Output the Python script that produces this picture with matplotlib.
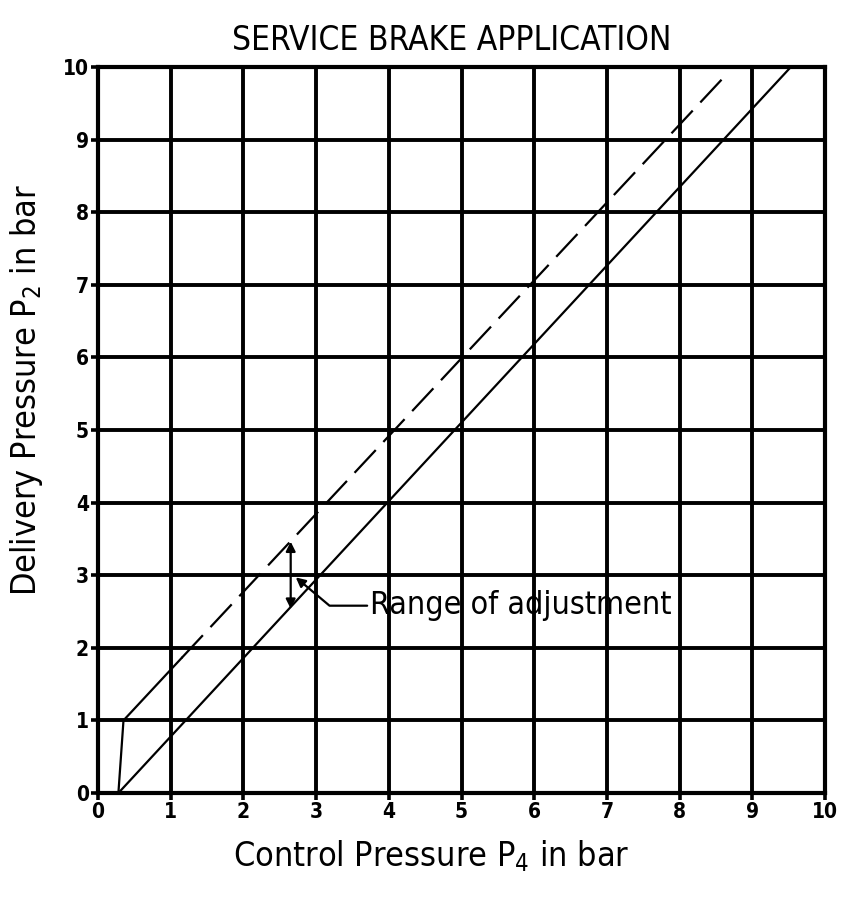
import matplotlib
matplotlib.use("Agg")
import matplotlib.pyplot as plt
from matplotlib import font_manager

# values (bar)
lower_x = [0.28, 9.53]
lower_y = [0.0, 10.0]
knee_x = [0.28, 0.35, 1.15]
knee_y = [0.0, 1.0, 1.86]
upper_x = [1.15, 8.60]
upper_y = [1.86, 9.85]
ticks = list(range(0, 11))

cond = [f for f in font_manager.fontManager.ttflist if f.stretch == 'condensed']
plt.rcParams['font.family'] = ['DejaVu Sans']
plt.rcParams['font.stretch'] = 'condensed' if cond else 'normal'

fig = plt.figure(figsize=(8.57, 8.99), dpi=100)
ax = fig.add_axes([0.1144, 0.1179, 0.8483, 0.8076])

ax.plot(lower_x, lower_y, color='black', lw=1.6)
ax.plot(knee_x, knee_y, color='black', lw=1.6)
ax.plot(upper_x, upper_y, color='black', lw=1.6, dashes=(14, 5))

ax.set_xlim(0, 10)
ax.set_ylim(0, 10)
ax.set_xticks(ticks)
ax.set_yticks(ticks)
ax.set_xticklabels([str(t) for t in ticks], fontsize=15, fontweight='bold')
ax.set_yticklabels([str(t) for t in ticks], fontsize=15, fontweight='bold')
ax.tick_params(direction='out', length=5, width=2.6, pad=1.5)
ax.grid(True, color='black', lw=2.8)
for s in ax.spines.values():
    s.set_linewidth(3)

ax.annotate('', xy=(2.65, 3.5), xytext=(2.65, 2.5),
            arrowprops=dict(arrowstyle='<|-|>', color='black', lw=1.6,
                            mutation_scale=14))
ax.annotate('Range of adjustment', xy=(2.72, 2.97), xytext=(3.74, 2.58),
            fontsize=23, va='center', ha='left',
            arrowprops=dict(arrowstyle='-|>', color='black', lw=1.6,
                            mutation_scale=14, shrinkA=0, shrinkB=0,
                            connectionstyle='angle,angleA=0,angleB=-40,rad=0'))

ax.set_title('SERVICE BRAKE APPLICATION', fontsize=24, pad=12, x=0.487)
ax.set_xlabel('Control Pressure P$_4$ in bar', fontsize=24.5, labelpad=8)
ax.xaxis.set_label_coords(0.458, -0.062)
ax.set_ylabel('Delivery Pressure P$_2$ in bar', fontsize=24.5)
ax.yaxis.set_label_coords(-0.073, 0.555)

fig.savefig('out.png', dpi=100)
